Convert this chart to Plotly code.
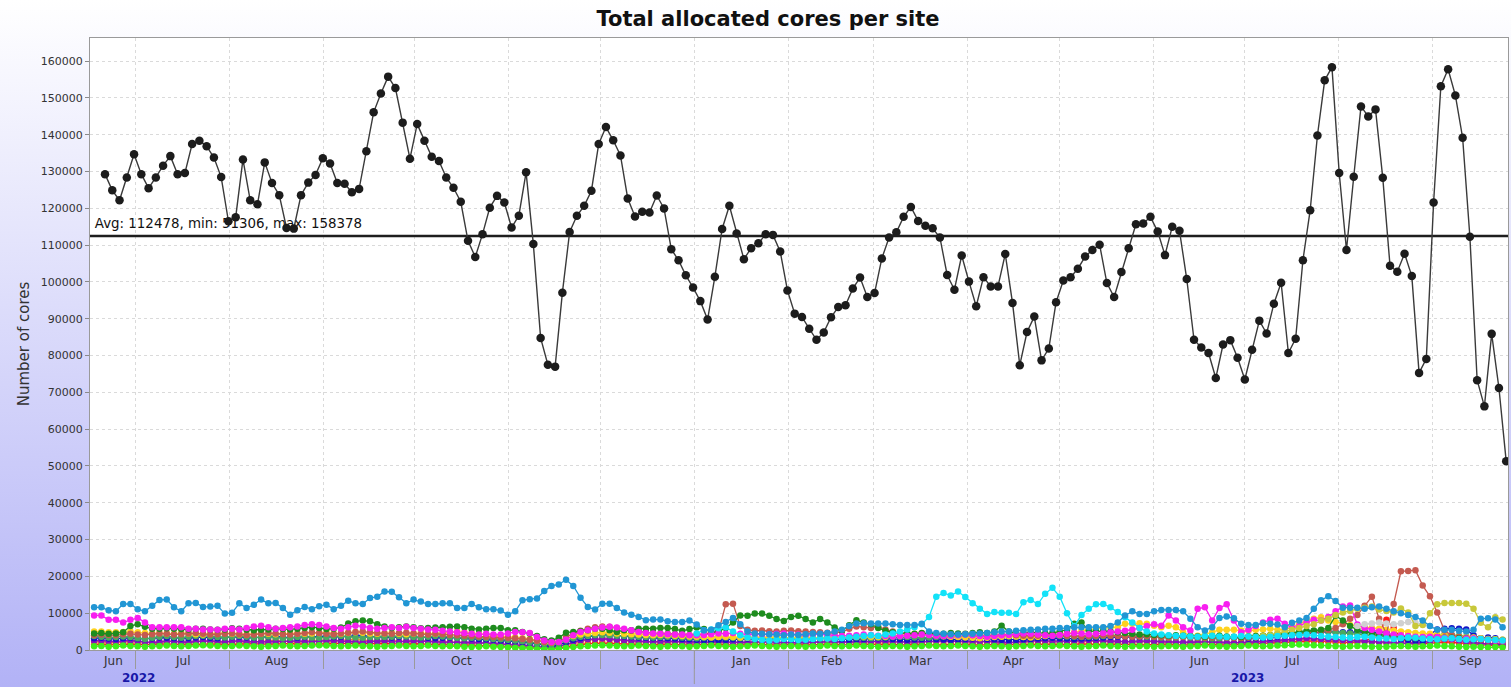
import base64
import pandas as pd
import plotly.graph_objects as go

# ---------------------------------------------------------------- data ----
# Total allocated cores, one value per time bin
TOTAL_CORES = [
    129300, 124900, 122200, 128400, 134700, 129300, 125500, 128400, 131600, 134200,
    129300, 129600, 137500, 138400, 136900, 133800, 128500, 116500, 117600, 133300,
    122200, 121100, 132500, 126900, 123600, 114700, 114500, 123600, 127000, 129100,
    133600, 132200, 126900, 126700, 124400, 125300, 135500, 146100, 151200, 155800,
    152700, 143300, 133500, 142900, 138400, 134000, 132900, 128400, 125600, 121800,
    111200, 106800, 113000, 120200, 123400, 121600, 114800, 118000, 129800, 110300,
    84800, 77500, 77000, 97100, 113600, 118000, 120700, 124800, 137500, 142100,
    138500, 134400, 122700, 117800, 119100, 118900, 123500, 120000, 108900, 105900,
    101800, 98500, 94800, 89800, 101400, 114400, 120700, 113200, 106200, 109200,
    110500, 113000, 112800, 108300, 97700, 91400, 90500, 87300, 84300, 86300,
    90400, 93200, 93700, 98200, 101200, 95900, 97000, 106400, 112100, 113500,
    117700, 120400, 116600, 115300, 114600, 112100, 101900, 97900, 107200, 100100,
    93400, 101300, 98800, 98800, 107600, 94300, 77400, 86400, 90600, 78700,
    81900, 94500, 100400, 101300, 103600, 106900, 108700, 110100, 99700, 95900,
    102700, 109200, 115700, 115900, 117700, 113700, 107300, 115000, 113900, 100800,
    84300, 82200, 80700, 73900, 83000, 84200, 79400, 73500, 81600, 89500,
    86000, 94100, 99800, 80700, 84600, 105900, 119500, 139800, 154800, 158378,
    129600, 108700, 128600, 147700, 145000, 146900, 128300, 104400, 102800, 107700,
    101600, 75300, 79100, 121600, 153200, 157800, 150700, 139200, 112300, 73300,
    66200, 85900, 71200, 51306,
]
AVG_CORES = 112478
MIN_CORES = 51306
MAX_CORES = 158378

# Per-site allocated cores, thousands of cores per bin (None = no data)
SITE_STEELBLUE_K = [
    11.6, 11.6, 10.8, 10.5, 12.5, 12.5, 11.1, 10.5, 12.0, 13.6,
    13.7, 11.6, 10.5, 12.7, 12.8, 11.7, 11.8, 12.0, 9.9, 10.1,
    12.7, 11.4, 12.3, 13.7, 12.7, 12.8, 11.4, 9.6, 10.8, 11.7,
    11.1, 11.9, 12.3, 11.1, 12.0, 13.4, 12.7, 12.5, 14.1, 14.5,
    15.9, 15.8, 14.3, 12.7, 13.7, 13.2, 12.5, 12.5, 12.7, 12.7,
    11.4, 11.4, 12.5, 11.6, 11.1, 11.1, 10.7, 9.6, 10.5, 13.5,
    13.8, 14.0, 16.0, 17.4, 17.8, 19.1, 17.4, 14.2, 11.7, 11.0,
    12.6, 12.6, 11.4, 10.2, 9.6, 9.0, 8.1, 8.3, 8.3, 7.8,
    7.6, 7.6, 8.0, 6.9, 5.4, 5.5, 6.7, 7.6, 8.7, 7.0,
    5.0, 4.5, 4.4, 4.3, 4.2, 4.0, 4.2, 4.1, 4.3, 4.5,
    4.4, 4.6, 5.0, 5.5, 6.5, 7.2, 7.3, 7.2, 7.2, 7.2,
    7.0, 6.8, 6.8, 6.8, 7.1, 5.0, 4.6, 4.4, 4.3, 4.2,
    4.3, 4.4, 4.5, 4.6, 4.8, 5.0, 5.0, 5.2, 5.4, 5.5,
    5.6, 5.8, 5.8, 6.0, 6.0, 6.2, 6.2, 6.2, 6.2, 6.2,
    6.5, 7.5, 9.4, 10.5, 9.8, 9.8, 10.5, 10.9, 10.9, 10.9,
    10.5, 8.5, 6.2, 5.3, 6.2, 8.7, 9.1, 8.6, 7.1, 6.8,
    6.8, 7.3, 7.1, 6.9, 6.2, 7.4, 8.0, 8.7, 11.2, 13.5,
    14.6, 13.3, 11.5, 11.5, 11.5, 11.2, 11.6, 11.8, 11.2, 10.5,
    10.0, 9.5, 9.0, 8.0, 6.5, 5.5, 5.5, 5.5, 5.2, 5.0,
    5.5, 8.5, 8.6, 8.3, 6.2,
]
SITE_CYAN_K = [None] * 83 + [
    4.5, 5.4, 5.6, 5.9, 6.2, 5.0, 4.0,
    3.4, 3.0, 2.8, 2.6, 2.8, 3.0, 2.9, 2.7, 2.8, 3.0,
    3.2, 3.1, 3.0, 3.2, 3.4, 3.6, 3.8, 4.0, 3.8, 4.2,
    4.5, 5.0, 5.6, 6.2, 7.0, 9.0, 14.5, 15.5, 14.8, 15.9,
    14.4, 12.7, 11.2, 9.8, 10.3, 10.1, 10.1, 9.8, 13.0, 13.6,
    12.5, 15.3, 16.9, 14.5, 10.0, 6.5, 9.5, 11.2, 12.4, 12.5,
    11.6, 10.3, 8.9, 7.5, 6.0, 5.0, 4.5, 4.2, 4.0, 3.8,
    3.9, 3.7, 3.6, 3.8, 3.9, 3.7, 3.5, 3.6, 3.8, 3.7,
    3.5, 3.4, 3.6, 3.8, 3.9, 4.0, 4.1, 4.2, 4.0, 3.8,
    3.6, 3.5, 3.4, 3.3, 3.5, 3.6, 3.4, 3.2, 3.1, 3.0,
    3.2, 3.4, 3.3, 3.1, 3.0, 2.9, 3.1, 3.2, 3.0, 2.8,
    2.9, 3.0, 2.8, 2.7, 2.6,
]
SITE_MAGENTA_K = [
    9.4, 9.4, 8.2, 8.2, 7.5, 8.2, 8.7, 7.5, 6.2, 6.2,
    6.2, 6.2, 6.2, 5.8, 5.8, 5.6, 5.6, 5.5, 5.8, 5.8,
    5.6, 6.0, 6.4, 6.6, 6.2, 5.8, 6.0, 6.2, 6.4, 6.8,
    7.0, 6.8, 6.4, 6.0, 5.8, 6.2, 6.6, 6.4, 6.0, 5.8,
    6.0, 6.2, 6.0, 6.3, 6.0, 5.8, 5.6, 5.5, 5.2, 5.0,
    4.8, 4.6, 4.4, 4.2, 4.4, 4.2, 4.2, 4.5, 4.9, 4.8,
    4.6, 3.5, 2.6, 2.2, 2.2, 2.8, 4.0, 4.9, 5.4, 5.8,
    6.1, 6.3, 6.1, 5.8, 5.4, 4.9, 4.6, 4.5, 4.4, 4.3,
    4.2, 4.2, 4.0, 4.0, 4.1, 4.3, 4.5, 4.4, 4.6, 4.4,
    4.3, 4.3, 4.2, 4.3, 4.4, 4.5, 4.3, 4.2, 4.0, 4.2,
    4.3, 4.1, 3.9, 3.8, 3.9, 4.0, 4.2, 4.1, 3.9, 3.8,
    3.7, 3.8, 3.9, 4.0, 4.2, 4.1, 3.9, 3.8, 3.9, 4.0,
    4.2, 4.0, 3.8, 3.6, 3.8, 4.0, 4.1, 4.3, 4.5, 4.4,
    4.2, 4.0, 3.9, 4.1, 4.4, 4.6, 4.5, 4.3, 4.4, 4.6,
    4.8, 5.0, 5.2, 5.5, 6.0, 6.5, 7.0, 6.6, 9.4, 8.0,
    6.2, 5.3, 11.2, 11.6, 8.0, 11.4, 12.4, 8.0, 4.8, 5.5,
    6.5, 7.5, 8.2, 8.5, 7.1, 6.0, 6.5, 7.5, 8.2, 8.0,
    9.0, 10.5, 11.8, 12.1, 6.9, 6.0, 5.5, 5.0, 4.5, 4.2,
    4.0, 3.8, 3.6, 3.5, 3.6, 3.5, 3.3, 3.2, 3.0, 3.1,
    3.2, 3.0, 2.8, 2.6, 2.5,
]
SITE_DARKGREEN_K = [
    4.5, 4.6, 4.4, 4.5, 4.8, 6.5, 7.0, 6.3, 5.8, 5.8,
    5.9, 5.8, 5.7, 5.6, 5.8, 5.8, 5.6, 5.5, 5.6, 5.9,
    5.8, 5.5, 5.4, 5.5, 5.6, 5.8, 5.7, 5.6, 5.8, 6.0,
    6.2, 6.0, 5.7, 5.8, 6.1, 7.2, 7.8, 8.0, 7.8, 7.0,
    6.4, 6.0, 6.2, 6.4, 6.2, 5.9, 6.0, 6.1, 6.2, 6.3,
    6.4, 6.2, 5.8, 5.6, 5.8, 6.0, 6.0, 5.4, 5.4, 4.9,
    4.5, 3.8, 2.9, 2.6, 3.3, 4.7, 4.9, 5.1, 5.4, 5.8,
    5.8, 5.4, 4.9, 5.4, 5.4, 5.8, 5.8, 5.8, 6.0, 6.0,
    5.7, 5.2, 5.7, 6.1, 5.7, 4.8, 5.0, 6.0, 7.5, 9.4,
    9.3, 9.9, 9.9, 9.3, 8.4, 7.9, 9.0, 9.3, 8.4, 7.5,
    8.4, 7.5, 6.1, 5.2, 6.7, 8.1, 7.5, 7.0, 6.0, 5.2,
    4.8, 4.6, 4.5, 4.4, 4.6, 4.5, 4.3, 4.4, 4.6, 4.5,
    4.4, 4.6, 4.8, 4.6, 5.0, 6.6, 5.0, 4.4, 4.6, 4.8,
    4.7, 4.5, 4.6, 5.0, 5.5, 7.1, 7.5, 5.2, 5.0, 5.2,
    5.0, 4.8, 4.6, 4.4, 4.2, 4.3, 4.1, 4.0, 3.9, 4.0,
    3.9, 3.8, 3.7, 3.6, 3.8, 3.9, 3.7, 3.6, 3.5, 3.7,
    3.8, 3.9, 4.0, 4.2, 4.4, 4.6, 4.8, 5.0, 5.2, 5.5,
    6.0, 9.3, 8.0, 6.5, 5.5, 5.0, 4.5, 4.2, 4.0, 3.8,
    3.6, 3.5, 3.4, 3.3, 3.4, 3.5, 3.4, 3.3, 3.2, 3.1,
    3.0, 2.9, 2.8, 2.7, 2.6,
]
SITE_INDIANRED_K = [
    4.0, 4.2, 4.1, 4.0, 4.3, 4.4, 4.2, 4.1, 4.3, 4.5,
    4.4, 4.2, 4.3, 4.5, 4.6, 4.4, 4.2, 4.3, 4.4, 4.5,
    4.3, 4.1, 4.2, 4.4, 4.6, 4.5, 4.3, 4.2, 4.4, 4.6,
    4.8, 4.6, 4.4, 4.3, 4.5, 4.7, 4.9, 5.0, 4.8, 4.6,
    4.5, 4.4, 4.6, 4.7, 4.5, 4.3, 4.2, 4.4, 4.3, 4.1,
    4.0, 3.9, 3.8, 3.7, 3.6, 3.5, 3.4, 3.3, 3.2, 3.0,
    2.8, 2.5, 2.2, 2.0, 2.2, 3.5, 4.5, 5.2, 5.8, 6.2,
    6.4, 6.3, 6.0, 5.6, 5.2, 5.0, 4.8, 4.6, 4.5, 4.4,
    4.3, 4.2, 4.1, 4.2, 4.4, 4.6, 5.0, 12.4, 12.6, 6.5,
    5.5, 5.2, 5.3, 5.1, 5.0, 5.2, 5.3, 5.1, 5.0, 4.9,
    4.8, 4.7, 4.6, 5.0, 5.8, 6.4, 6.2, 6.0, 6.3, 5.6,
    5.0, 4.6, 4.4, 4.2, 4.3, 4.4, 4.2, 4.1, 4.0, 4.2,
    4.3, 4.1, 4.0, 3.9, 4.0, 4.1, 4.2, 4.0, 3.9, 3.8,
    3.9, 4.0, 4.1, 4.0, 3.9, 3.8, 3.7, 3.8, 3.9, 4.0,
    3.9, 3.8, 3.7, 3.6, 3.7, 3.8, 3.6, 3.5, 3.4, 3.5,
    3.6, 3.5, 3.4, 3.3, 3.4, 3.5, 3.4, 3.3, 3.2, 3.3,
    3.4, 3.5, 3.6, 3.8, 4.0, 4.2, 4.4, 4.6, 4.8, 5.0,
    5.5, 6.0, 7.0, 8.5, 9.5, 12.0, 14.5, 8.5, 4.5, 12.5,
    21.4, 21.5, 21.7, 17.5, 14.6, 10.2, 5.3, 4.0, 3.5, 3.2,
    3.0, 2.8, 2.6, 2.5, 2.4,
]
SITE_OLIVE_K = [None] * 160 + [
    3.5, 3.8, 4.0, 4.5, 5.0, 5.5, 6.0, 6.5, 7.0, 8.0,
    8.5, 9.5, 10.2, 10.6, 11.2, 11.5, 11.8, 11.0, 10.6, 10.2,
    11.3, 10.2, 6.5, 6.8, 10.0, 12.4, 12.8, 12.8, 12.8, 12.6,
    11.2, 7.4, 6.2, 8.9, 8.3,
]
SITE_GOLD_K = [
    5.0, 5.0, 4.8, 4.8, 4.9, 5.0, 4.8, 4.6, 4.5, 4.6,
    4.5, 4.4, 4.6, 4.5, 4.3, 4.2, 4.4, 4.5, 4.6, 4.4,
    4.3, 4.2, 4.4, 4.5, 4.4, 4.3, 4.4, 4.6, 4.5, 4.4,
    4.5, 4.6, 4.7, 4.5, 4.4, 4.6, 4.8, 4.7, 4.5, 4.4,
    4.5, 4.6, 4.4, 4.3, 4.5, 4.6, 4.5, 4.4, 4.6, 4.8,
    5.0, 4.8, 4.6, 4.4, 4.2, 4.0, 3.8, 3.6, 3.4, 3.2,
    3.0, 2.6, 2.2, 2.0, 2.4, 3.2, 3.8, 4.2, 4.5, 4.6,
    4.8, 4.7, 4.5, 4.4, 4.3, 4.2, 4.1, 4.0, 4.1, 4.0,
    3.9, 3.8, 3.7, 3.6, 3.5, 3.4, 3.5, 3.6, 3.5, 3.4,
    3.3, 3.4, 3.5, 3.4, 3.3, 3.2, 3.3, 3.4, 3.5, 3.4,
    3.3, 3.2, 3.3, 3.4, 3.5, 3.6, 3.7, 3.6, 3.5, 3.6,
    3.8, 4.0, 4.2, 4.4, 4.5, 4.3, 4.0, 3.8, 3.6, 3.5,
    3.4, 3.3, 3.2, 3.3, 3.5, 3.6, 3.8, 3.7, 3.5, 3.4,
    3.6, 3.8, 4.0, 4.2, 4.5, 4.8, 5.2, 5.5, 5.8, 6.0,
    6.2, 6.2, 7.1, 7.1, 7.3, 7.1, 6.6, 6.2, 6.6, 6.2,
    4.8, 3.9, 3.9, 4.3, 4.8, 5.5, 5.5, 5.5, 5.3, 5.2,
    5.5, 5.6, 5.8, 5.5, 5.5, 6.2, 7.1, 8.0, 8.5, 8.9,
    8.0, 7.6, 7.2, 6.8, 6.5, 6.2, 6.0, 5.8, 5.5, 5.2,
    5.0, 4.8, 4.6, 4.5, 4.4, 4.2, 4.0, 3.8, 3.6, 3.5,
    3.4, 3.2, 3.0, 2.9, 2.8,
]
SITE_NAVY_K = [
    3.2, 3.3, 3.1, 3.0, 3.2, 3.3, 3.1, 3.0, 3.2, 3.4,
    3.3, 3.2, 3.1, 3.2, 3.4, 3.5, 3.3, 3.2, 3.4, 3.5,
    3.6, 3.4, 3.3, 3.5, 3.6, 3.7, 3.5, 3.4, 3.3, 3.5,
    3.6, 3.8, 3.7, 3.5, 3.6, 3.8, 4.0, 3.9, 3.7, 3.6,
    3.5, 3.4, 3.6, 3.7, 3.5, 3.4, 3.3, 3.2, 3.3, 3.4,
    3.3, 3.2, 3.1, 3.0, 2.9, 2.8, 2.6, 2.5, 2.4, 2.2,
    2.0, 1.6, 1.2, 1.0, 1.4, 2.2, 2.8, 3.2, 3.6, 4.0,
    4.2, 4.1, 3.9, 3.7, 3.5, 3.4, 3.3, 3.2, 3.3, 3.2,
    3.1, 3.0, 2.9, 2.8, 2.7, 2.6, 2.7, 2.8, 2.9, 3.0,
    3.1, 3.0, 2.9, 3.0, 3.1, 3.0, 2.9, 2.8, 2.9, 3.0,
    3.1, 3.2, 3.0, 2.9, 2.8, 2.9, 3.0, 3.1, 3.2, 3.1,
    3.0, 2.9, 2.8, 2.9, 3.0, 3.1, 3.0, 2.9, 2.8, 2.9,
    3.0, 3.1, 3.2, 3.0, 2.9, 2.8, 2.7, 2.8, 2.9, 3.0,
    3.1, 3.2, 3.3, 3.2, 3.1, 3.0, 3.1, 3.2, 3.3, 3.4,
    3.5, 3.6, 3.7, 3.6, 3.5, 3.6, 3.8, 3.9, 3.8, 3.7,
    3.6, 3.5, 3.4, 3.3, 3.2, 3.3, 3.4, 3.3, 3.2, 3.1,
    3.2, 3.3, 3.4, 3.6, 3.8, 4.0, 4.2, 4.5, 4.8, 5.0,
    5.0, 4.9, 4.8, 4.8, 4.9, 4.8, 4.9, 4.8, 4.8, 3.5,
    3.0, 2.8, 2.6, 2.5, 4.2, 5.6, 5.8, 5.9, 5.8, 5.6,
    4.0, 3.2, 3.4, 3.2, 2.6,
]
SITE_PURPLE_K = [
    2.5, 2.6, 2.4, 2.3, 2.5, 2.6, 2.4, 2.2, 2.0, 2.2,
    2.4, 2.3, 2.2, 2.1, 2.3, 2.4, 2.5, 2.3, 2.2, 2.4,
    2.5, 2.3, 2.2, 2.1, 2.2, 2.3, 2.4, 2.6, 2.5, 2.3,
    2.2, 2.4, 2.5, 2.6, 2.4, 2.3, 2.2, 2.1, 2.3, 2.4,
    2.5, 2.3, 2.2, 2.4, 2.5, 2.4, 2.3, 2.2, 2.1, 2.0,
    1.9, 2.0, 2.1, 2.0, 1.9, 1.8, 1.7, 1.6, 1.5, 1.3,
    1.1, 0.9, 0.8, 0.8, 1.0, 1.6, 2.2, 2.6, 2.9, 3.0,
    3.1, 3.0, 2.8, 2.6, 2.5, 2.4, 2.3, 2.2, 2.3, 2.4,
    2.3, 2.2, 2.1, 2.0, 2.1, 2.2, 2.3, 2.2, 2.1, 2.0,
    2.1, 2.2, 2.3, 2.2, 2.1, 2.0, 1.9, 2.0, 2.1, 2.2,
    2.3, 2.4, 2.3, 2.2, 2.1, 2.2, 2.3, 2.4, 2.5, 2.4,
    2.3, 2.2, 2.1, 2.2, 2.3, 2.4, 2.5, 2.6, 2.5, 2.4,
    2.3, 2.2, 2.3, 2.4, 2.2, 2.1, 2.0, 2.2, 2.4, 2.5,
    2.6, 2.5, 2.4, 2.3, 2.4, 2.5, 2.6, 2.7, 2.6, 2.5,
    2.4, 2.3, 2.2, 2.3, 2.4, 2.5, 2.4, 2.3, 2.2, 2.1,
    2.0, 2.1, 2.2, 2.3, 2.2, 2.1, 2.0, 1.9, 2.0, 2.1,
    2.2, 2.3, 2.4, 2.5, 2.6, 2.8, 3.0, 3.2, 3.1, 3.0,
    2.9, 2.8, 2.7, 2.6, 2.5, 2.4, 2.3, 2.2, 2.1, 2.0,
    1.9, 1.8, 1.9, 2.0, 2.4, 2.8, 3.0, 2.9, 2.6, 2.3,
    2.0, 1.8, 1.7, 1.6, 1.5,
]
SITE_SEAGREEN_K = [
    3.8, 3.6, 3.4, 3.5, 3.7, 3.5, 3.2, 3.0, 3.3, 3.6,
    3.8, 3.5, 3.3, 3.6, 3.8, 3.9, 3.7, 3.5, 3.4, 3.6,
    3.8, 3.6, 3.4, 3.5, 3.7, 3.4, 3.2, 3.3, 3.5, 3.6,
    3.4, 3.3, 3.5, 3.7, 3.8, 3.6, 3.4, 3.3, 3.5, 3.6,
    3.5, 3.6, 3.8, 3.7, 3.5, 3.4, 3.6, 3.8, 3.7, 3.5,
    3.3, 3.2, 3.3, 3.4, 3.2, 3.0, 2.9, 2.8, 2.6, 2.4,
    2.2, 1.8, 1.6, 1.5, 1.8, 2.6, 3.2, 3.6, 3.8, 4.0,
    4.1, 4.0, 3.9, 3.8, 3.7, 3.6, 3.5, 3.4, 3.5, 3.6,
    3.5, 3.4, 3.3, 3.2, 3.3, 3.4, 3.5, 3.4, 3.3, 3.2,
    3.3, 3.4, 3.3, 3.2, 3.1, 3.2, 3.3, 3.4, 3.3, 3.2,
    3.1, 3.2, 3.3, 3.4, 3.5, 3.4, 3.3, 3.2, 3.3, 3.4,
    3.5, 3.6, 3.5, 3.4, 3.3, 3.4, 3.5, 3.6, 3.7, 3.6,
    3.5, 3.4, 3.5, 3.6, 3.7, 3.8, 3.7, 3.6, 3.5, 3.6,
    3.7, 3.8, 3.9, 3.8, 3.7, 3.6, 3.5, 3.6, 3.7, 3.8,
    3.9, 4.0, 3.9, 3.8, 3.7, 3.6, 3.5, 3.4, 3.3, 3.4,
    3.5, 3.4, 3.3, 3.2, 3.1, 3.2, 3.3, 3.4, 3.5, 3.6,
    3.7, 3.8, 4.0, 4.2, 4.5, 4.8, 5.0, 5.2, 5.3, 5.2,
    5.0, 4.8, 4.6, 4.5, 4.4, 4.2, 4.0, 3.8, 3.6, 3.5,
    3.4, 3.3, 3.2, 3.3, 3.6, 4.0, 4.2, 4.1, 3.9, 3.6,
    3.4, 3.2, 3.0, 2.9, 2.8,
]
SITE_LIME_K = [
    1.0, 1.1, 0.9, 1.0, 1.2, 1.1, 1.0, 0.9, 1.0, 1.1,
    1.2, 1.1, 1.0, 1.1, 1.2, 1.3, 1.2, 1.1, 1.0, 1.1,
    1.2, 1.1, 1.0, 0.9, 1.0, 1.1, 1.2, 1.1, 1.0, 1.1,
    1.2, 1.3, 1.2, 1.1, 1.0, 1.1, 1.2, 1.1, 1.0, 0.9,
    1.0, 1.1, 1.2, 1.1, 1.0, 1.1, 1.2, 1.1, 1.0, 1.1,
    1.0, 0.9, 0.8, 0.9, 1.0, 0.9, 0.8, 0.7, 0.6, 0.5,
    0.4, 0.3, 0.3, 0.3, 0.4, 0.6, 0.8, 1.0, 1.1, 1.2,
    1.3, 1.2, 1.1, 1.0, 1.1, 1.2, 1.1, 1.0, 0.9, 1.0,
    1.1, 1.0, 0.9, 1.0, 1.1, 1.2, 1.1, 1.0, 0.9, 1.0,
    1.1, 1.2, 1.1, 1.0, 0.9, 1.0, 1.1, 1.0, 0.9, 1.0,
    1.1, 1.2, 1.1, 1.0, 1.1, 1.2, 1.1, 1.0, 0.9, 1.0,
    1.1, 1.0, 0.9, 1.0, 1.1, 1.2, 1.1, 1.0, 1.1, 1.2,
    1.1, 1.0, 0.9, 1.0, 1.1, 1.0, 0.9, 1.0, 1.1, 1.2,
    1.1, 1.0, 1.1, 1.2, 1.1, 1.0, 0.9, 1.0, 1.1, 1.2,
    1.1, 1.0, 0.9, 1.0, 1.1, 1.0, 0.9, 1.0, 1.1, 1.0,
    0.9, 1.0, 1.1, 1.2, 1.1, 1.0, 0.9, 1.0, 1.1, 1.2,
    1.1, 1.0, 1.1, 1.2, 1.3, 1.4, 1.5, 1.4, 1.3, 1.2,
    1.1, 1.0, 0.9, 1.0, 1.1, 1.0, 0.9, 0.8, 0.9, 1.0,
    1.1, 1.0, 0.9, 1.0, 1.1, 1.2, 1.1, 1.0, 0.9, 0.8,
    0.9, 0.8, 0.7, 0.8, 0.7,
]
SITE_ORANGE_K = [
    2.2, 2.3, 2.1, 2.0, 2.2, 2.4, 2.3, 2.1, 2.0, 2.2,
    2.3, 2.4, 2.2, 2.1, 2.3, 2.5, 2.4, 2.2, 2.1, 2.3,
    2.4, 2.2, 2.1, 2.3, 2.5, 2.6, 2.4, 2.3, 2.2, 2.4,
    2.6, 2.7, 2.5, 2.4, 2.6, 2.8, 2.9, 2.7, 2.5, 2.4,
    2.5, 2.6, 2.4, 2.3, 2.5, 2.6, 2.4, 2.3, 2.2, 2.1,
    2.0, 1.9, 1.8, 1.9, 1.8, 1.7, 1.6, 1.5, 1.4, 1.2,
    1.0, 0.8, 0.7, 0.7, 0.9, 1.4, 2.0, 2.4, 2.7, 2.9,
    3.0, 2.9, 2.7, 2.5, 2.4, 2.3, 2.2, 2.1, 2.2, 2.3,
    2.2, 2.1, 2.0, 1.9, 2.0, 2.1, 2.2, 2.1, 2.0, 1.9,
    2.0, 2.1, 2.2, 2.1, 2.0, 1.9, 1.8, 1.9, 2.0, 2.1,
    2.2, 2.3, 2.2, 2.1, 2.0, 2.1, 2.2, 2.3, 2.4, 2.3,
    2.2, 2.1, 2.0, 2.1, 2.2, 2.3, 2.4, 2.5, 2.4, 2.3,
    2.2, 2.1, 2.2, 2.3, 2.1, 2.0, 1.9, 2.1, 2.3, 2.4,
    2.5, 2.4, 2.3, 2.2, 2.3, 2.4, 2.5, 2.6, 2.5, 2.4,
    2.3, 2.2, 2.1, 2.2, 2.3, 2.4, 2.3, 2.2, 2.1, 2.0,
    1.9, 2.0, 2.1, 2.2, 2.1, 2.0, 1.9, 1.8, 1.9, 2.0,
    2.1, 2.2, 2.3, 2.4, 2.5, 2.7, 2.9, 3.1, 3.0, 2.9,
    2.8, 2.7, 2.6, 2.5, 2.4, 2.3, 2.2, 2.1, 2.0, 1.9,
    1.8, 1.7, 1.8, 1.9, 2.3, 2.7, 2.9, 2.8, 2.5, 2.2,
    1.9, 1.7, 1.6, 1.5, 1.4,
]
SITE_RED_K = [
    1.5, 1.6, 1.4, 1.5, 1.7, 1.6, 1.5, 1.4, 1.5, 1.6,
    1.7, 1.6, 1.5, 1.4, 1.5, 1.6, 1.7, 1.6, 1.5, 1.6,
    1.7, 1.8, 1.7, 1.6, 1.5, 1.6, 1.7, 1.8, 1.7, 1.6,
    1.5, 1.6, 1.7, 1.8, 1.9, 1.8, 1.7, 1.6, 1.7, 1.8,
    1.7, 1.6, 1.5, 1.6, 1.7, 1.6, 1.5, 1.4, 1.5, 1.4,
    1.3, 1.4, 1.3, 1.2, 1.3, 1.2, 1.1, 1.0, 0.9, 0.8,
    0.7, 0.6, 0.5, 0.5, 0.6, 0.9, 1.2, 1.5, 1.7, 1.8,
    1.9, 1.8, 1.7, 1.6, 1.5, 1.6, 1.5, 1.4, 1.5, 1.6,
    1.5, 1.4, 1.3, 1.4, 1.5, 1.6, 1.5, 1.4, 1.3, 1.4,
    1.5, 1.6, 1.5, 1.4, 1.3, 1.4, 1.5, 1.4, 1.3, 1.4,
    1.5, 1.6, 1.5, 1.4, 1.5, 1.6, 1.7, 1.6, 1.5, 1.6,
    1.5, 1.4, 1.5, 1.6, 1.5, 1.4, 1.3, 1.4, 1.5, 1.6,
    1.5, 1.4, 1.3, 1.4, 1.5, 1.6, 1.5, 1.4, 1.5, 1.6,
    1.7, 1.6, 1.5, 1.4, 1.5, 1.6, 1.7, 1.6, 1.5, 1.4,
    1.5, 1.6, 1.5, 1.4, 1.3, 1.4, 1.5, 1.6, 1.5, 1.4,
    1.3, 1.4, 1.5, 1.6, 1.5, 1.4, 1.3, 1.4, 1.5, 1.6,
    1.7, 1.8, 1.9, 2.0, 2.1, 2.2, 2.3, 2.4, 2.5, 2.4,
    2.3, 2.2, 2.1, 2.0, 2.2, 2.5, 3.0, 5.0, 8.2, 6.0,
    3.0, 2.0, 1.8, 1.7, 1.8, 2.0, 2.2, 2.1, 1.9, 1.7,
    1.5, 1.4, 1.3, 1.2, 1.1,
]
SITE_GREY_K = [None] * 174 + [
    6.5, 7.0, 7.2, 7.5, 7.2, 7.0, 7.3, 7.6, 7.4, 7.0, 6.5,
] + [None] * 10

# Drawing order (first = bottom) and colour of every site series
SITES = [
    (SITE_RED_K, "#ff1a1a"),
    (SITE_ORANGE_K, "#f08c1e"),
    (SITE_PURPLE_K, "#8a10c0"),
    (SITE_NAVY_K, "#1414c8"),
    (SITE_LIME_K, "#3cf01a"),
    (SITE_SEAGREEN_K, "#4aa860"),
    (SITE_GOLD_K, "#ffd21e"),
    (SITE_INDIANRED_K, "#c45a50"),
    (SITE_DARKGREEN_K, "#1e8c1e"),
    (SITE_MAGENTA_K, "#f81ef0"),
    (SITE_GREY_K, "#d0d0d0"),
    (SITE_OLIVE_K, "#c8c83a"),
    (SITE_CYAN_K, "#12e2f8"),
    (SITE_STEELBLUE_K, "#2196d4"),
]

# ---------------------------------------------------------------- time base --
BIN_START = pd.Timestamp("2022-06-21 03:10")
BIN_WIDTH = pd.Timedelta(hours=57.32)
X_RANGE = [pd.Timestamp("2022-06-16 04:40"), pd.Timestamp("2023-09-25 16:15")]
MONTH_STARTS = list(pd.date_range("2022-07-01", "2023-09-01", freq="MS"))

x_total = [BIN_START + j * BIN_WIDTH for j in range(len(TOTAL_CORES))]
# per-site bins are reported half a bin earlier than the total
x_sites = [BIN_START + (i - 1.5) * BIN_WIDTH for i in range(len(SITE_STEELBLUE_K))]

# ---------------------------------------------------------------- page ------
W, H = 1511, 687
M_L, M_R, M_T, M_B = 90, 3, 38, 37
PW, PH = W - M_L - M_R, H - M_T - M_B
FONT = "DejaVu Sans"
GRID = "#dadada"

fig = go.Figure()

# average line and its caption sit underneath the series
fig.add_trace(go.Scatter(
    x=X_RANGE, y=[AVG_CORES, AVG_CORES], mode="lines",
    line=dict(color="#1e1e1e", width=2.6), hoverinfo="skip", showlegend=False,
))
fig.add_trace(go.Scatter(
    x=[X_RANGE[0]], y=[AVG_CORES], mode="markers+text",
    marker=dict(size=6, color="rgba(0,0,0,0)"),
    text=[f"Avg: {AVG_CORES}, min: {MIN_CORES}, max: {MAX_CORES}"],
    textposition="top right",
    textfont=dict(family=FONT, size=13.4, color="#111111"),
    hoverinfo="skip", showlegend=False, cliponaxis=False,
))

for values, colour in SITES:
    fig.add_trace(go.Scatter(
        x=x_sites,
        y=[None if v is None else v * 1000 for v in values],
        mode="lines+markers",
        line=dict(color=colour, width=1.3),
        marker=dict(color=colour, size=6.5),
        hoverinfo="skip", showlegend=False,
    ))

fig.add_trace(go.Scatter(
    x=x_total, y=TOTAL_CORES, mode="lines+markers",
    line=dict(color="#3a3a3a", width=1.4),
    marker=dict(color="#1c1c1c", size=8.5),
    name="Total", showlegend=False,
))

# vertical white-to-lavender page gradient
svg = (
    '<svg xmlns="http://www.w3.org/2000/svg" width="10" height="100" '
    'preserveAspectRatio="none"><defs><linearGradient id="g" x1="0" y1="0" '
    'x2="0" y2="1"><stop offset="0" stop-color="#ffffff"/>'
    '<stop offset="1" stop-color="#b2b2f6"/></linearGradient></defs>'
    '<rect width="10" height="100" fill="url(#g)"/></svg>'
)
bg_uri = "data:image/svg+xml;base64," + base64.b64encode(svg.encode()).decode()

# month names centred on the visible part of each month
edges = [X_RANGE[0]] + MONTH_STARTS + [X_RANGE[1]]
annotations = []
for a, b in zip(edges[:-1], edges[1:]):
    mid = a + (b - a) / 2
    label_month = (a if a in MONTH_STARTS else b - pd.Timedelta(days=1)).strftime("%b")
    annotations.append(dict(
        x=mid, xref="x", y=0, yref="paper", yshift=-11, yanchor="middle",
        text=label_month, showarrow=False,
        font=dict(family=FONT, size=12, color="#333333"),
    ))
for year in (2022, 2023):
    annotations.append(dict(
        x=pd.Timestamp(f"{year}-07-02"), xref="x", y=0, yref="paper",
        yshift=-28, yanchor="middle", text=f"<b>{year}</b>", showarrow=False,
        font=dict(family=FONT, size=12, color="#1818a8"),
    ))

fig.update_layout(
    width=W, height=H,
    margin=dict(l=M_L, r=M_R, t=M_T, b=M_B, pad=0),
    paper_bgcolor="white", plot_bgcolor="white",
    font=dict(family=FONT, color="#333333"),
    title=dict(
        text="<b>Total allocated cores per site</b>",
        x=768 / W, xref="container", xanchor="center",
        y=1 - 19 / H, yref="container", yanchor="middle",
        font=dict(family=FONT, size=21, color="#111111"),
    ),
    images=[dict(
        source=bg_uri, xref="paper", yref="paper",
        x=-M_L / PW, y=1 + M_T / PH, sizex=W / PW, sizey=H / PH,
        xanchor="left", yanchor="top", sizing="stretch", layer="below",
    )],
    shapes=[
        dict(type="rect", xref="paper", yref="paper", x0=0, x1=1, y0=0, y1=1,
             fillcolor="white", line=dict(width=0), layer="below"),
        dict(type="line", xref="x", yref="paper",
             x0=pd.Timestamp("2023-01-01"), x1=pd.Timestamp("2023-01-01"),
             y0=0, y1=-34 / PH, line=dict(color="#9a9a9a", width=1)),
    ],
    annotations=annotations,
    xaxis=dict(
        type="date", range=X_RANGE,
        tickmode="array", tickvals=MONTH_STARTS, showticklabels=False,
        ticks="outside", ticklen=18, tickcolor="#9a9a9a", tickwidth=1,
        showgrid=True, gridcolor=GRID, griddash="3px,3px", gridwidth=1,
        showline=True, linecolor="#9a9a9a", linewidth=1, mirror=True,
        zeroline=False,
    ),
    yaxis=dict(
        range=[0, MAX_CORES * 1.05], tick0=0, dtick=10000, tickformat="d",
        ticks="outside", ticklen=4, tickcolor="#8a8a8a",
        tickfont=dict(family=FONT, size=11, color="#333333"),
        showgrid=True, gridcolor=GRID, griddash="3px,3px", gridwidth=1,
        showline=True, linecolor="#9a9a9a", linewidth=1, mirror=True,
        zeroline=False,
        title=dict(text="Number of cores", standoff=7,
                   font=dict(family=FONT, size=15, color="#333333")),
    ),
)

fig.write_html("out.html")
